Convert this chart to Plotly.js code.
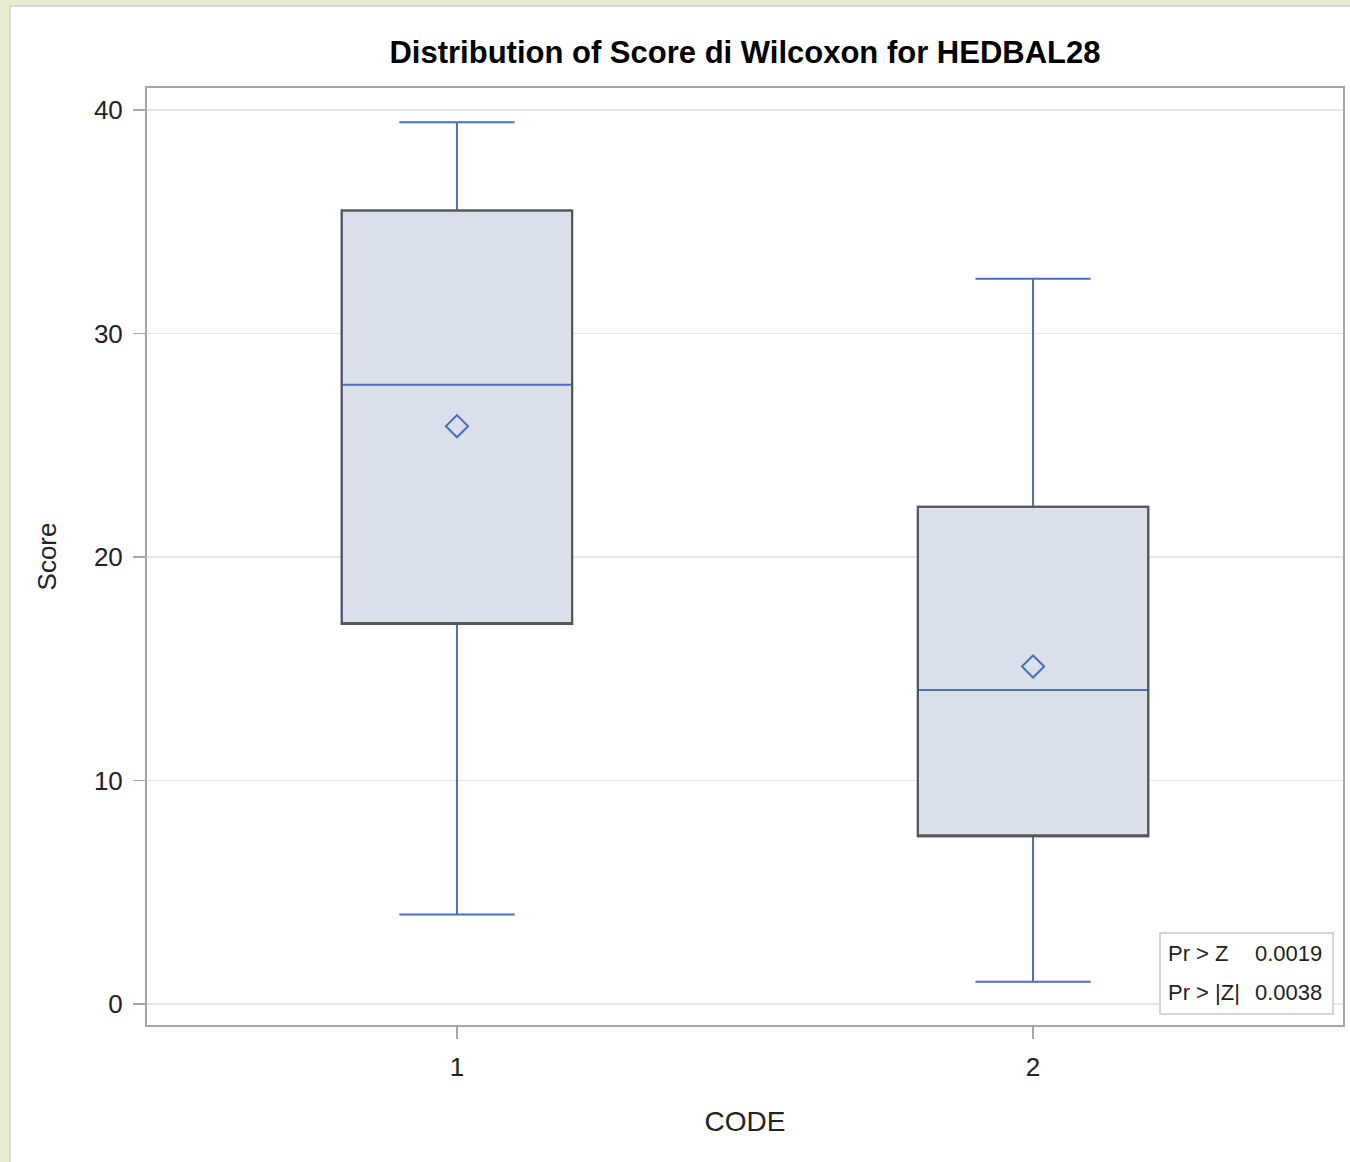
<!DOCTYPE html>
<html>
<head>
<meta charset="utf-8">
<script src="https://cdn.plot.ly/plotly-3.0.1.min.js"></script>
<style>
  html, body { margin:0; padding:0; background:#e8ecd3; width:1350px; height:1162px; overflow:hidden; }
  #panel { position:absolute; left:9px; top:5px; width:1341px; height:1157px; background:#ffffff;
           border-left:2px solid #d6d9d6; border-top:2px solid #d6d9d6; box-sizing:border-box; }
  #chart { position:absolute; left:0; top:0; width:1350px; height:1162px; }
</style>
</head>
<body>
<div id="panel"></div>
<div id="chart"></div>
<script>
// ---- data ----
const categories = ['1', '2'];
const q1 = [17.0, 7.5];
const median = [27.7, 14.05];
const q3 = [35.5, 22.25];
const lowerWhisker = [4.0, 1.0];
const upperWhisker = [39.45, 32.45];
const means = [25.85, 15.1];
const statLabels = ['Pr > Z', 'Pr > |Z|'];
const statValues = ['0.0019', '0.0038'];

const FONT = '"Liberation Sans Narrow", "Arial Narrow", "Liberation Sans", Arial, sans-serif';
const BLUE = '#4a6cc2';
const GRAY = '#555555';

const traces = [
  {
    type: 'box', x: categories, q1: q1, median: median, q3: q3,
    lowerfence: lowerWhisker, upperfence: upperWhisker,
    fillcolor: '#d9e0ea', line: { color: BLUE, width: 2 },
    width: 0.4, whiskerwidth: 0.5, boxpoints: false, showlegend: false, hoverinfo: 'skip'
  },
  {
    type: 'box', x: categories, q1: q1, median: q1, q3: q3,
    lowerfence: q1, upperfence: q3,
    fillcolor: 'rgba(0,0,0,0)', line: { color: GRAY, width: 2 },
    width: 0.4, whiskerwidth: 0, boxpoints: false, showlegend: false, hoverinfo: 'skip'
  },
  {
    type: 'scatter', mode: 'markers', x: categories, y: means,
    marker: { symbol: 'diamond-open', size: 17, color: BLUE, line: { color: BLUE, width: 2 } },
    showlegend: false, hoverinfo: 'skip'
  }
];

const annotations = [];
const rowY = [0.0758, 0.0342];
statLabels.forEach((t, i) => {
  annotations.push({ xref: 'paper', yref: 'paper', x: 0.852, y: rowY[i], xanchor: 'left', yanchor: 'middle',
    text: t, showarrow: false, font: { family: FONT, size: 22, color: '#222' } });
  annotations.push({ xref: 'paper', yref: 'paper', x: 0.9845, y: rowY[i], xanchor: 'right', yanchor: 'middle',
    text: statValues[i], showarrow: false, font: { family: FONT, size: 22, color: '#222' } });
});

const layout = {
  width: 1350, height: 1162,
  paper_bgcolor: 'rgba(0,0,0,0)', plot_bgcolor: '#ffffff',
  margin: { l: 147, r: 7, t: 88, b: 137 },
  boxmode: 'overlay',
  font: { family: FONT, color: '#222' },
  title: {
    text: '<b>Distribution of Score di Wilcoxon for HEDBAL28</b>',
    font: { family: FONT, size: 31, color: '#000' },
    xref: 'paper', x: 0.5, xanchor: 'center', yref: 'container', y: 1 - 52 / 1162, yanchor: 'middle'
  },
  xaxis: {
    type: 'category', categoryarray: categories, categoryorder: 'array',
    range: [-0.538, 1.538],
    showgrid: false, zeroline: false,
    showline: true, linecolor: '#a4a7aa', linewidth: 2, mirror: true,
    ticks: 'outside', ticklen: 12, tickwidth: 1.5, tickcolor: '#a4a7aa',
    ticklabelstandoff: 6,
    tickfont: { family: FONT, size: 26, color: '#222' },
    title: { text: 'CODE', font: { family: FONT, size: 28, color: '#222' }, standoff: 30 }
  },
  yaxis: {
    range: [-0.94, 40.98], tickvals: [0, 10, 20, 30, 40],
    showgrid: true, gridcolor: '#e6e6e6', gridwidth: 1.5, zeroline: false,
    showline: true, linecolor: '#a4a7aa', linewidth: 2, mirror: true,
    ticks: 'outside', ticklen: 12, tickwidth: 1.5, tickcolor: '#a4a7aa',
    ticklabelstandoff: 5,
    tickfont: { family: FONT, size: 26, color: '#222' },
    title: { text: 'Score', font: { family: FONT, size: 26, color: '#222' }, standoff: 30 }
  },
  shapes: [
    { type: 'rect', xref: 'paper', yref: 'paper', x0: 0.847, x1: 0.9916, y0: 0.0117, y1: 0.0982,
      line: { color: '#d4d4d4', width: 2 }, fillcolor: '#ffffff', layer: 'above' }
  ],
  annotations: annotations
};

Plotly.newPlot('chart', traces, layout, { displayModeBar: false, staticPlot: true });
</script>
</body>
</html>
